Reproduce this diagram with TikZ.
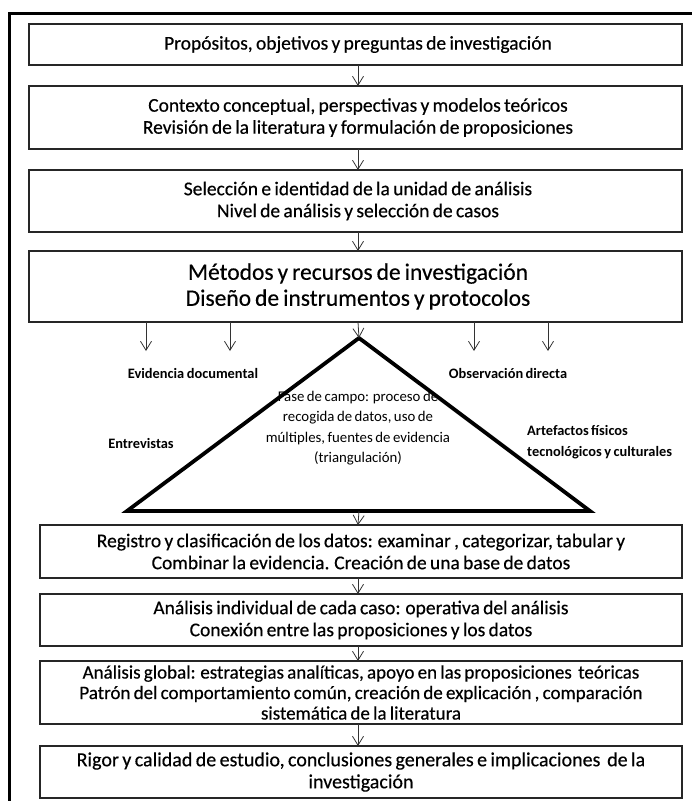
\documentclass[tikz,border=0pt]{standalone}
\usepackage{fontspec}
\setmainfont{Carlito}[WordSpace=0.75]
\usetikzlibrary{arrows.meta}
\begin{document}
\begin{tikzpicture}[x=1pt,y=-1pt,
  box/.style={draw=black!85,line width=1.3pt},
  btext/.style={align=center,font=\addfontfeature{FakeBold=0.4}\fontsize{19.5}{22}\selectfont,inner sep=0pt},
  lbl/.style={align=left,font=\bfseries\fontsize{14.4}{21}\selectfont,inner sep=0pt},
  flow/.style={-{Straight Barb[length=9pt,width=11pt]},line width=0.8pt,black!80},
  tri/.style={line width=3.8pt,line join=miter}]
\useasboundingbox (0,0) rectangle (692,801);
% outer frame
\draw[line width=3pt] (9.5,820) -- (9.5,13.5) -- (710,13.5);
% boxes
\draw[box] (29,24) rectangle (682,65);
\node[btext] (t1) at (358,44.5) {Propósitos, objetivos y preguntas de investigación};
\coordinate (b1) at (358,65);
\draw[box] (29,86) rectangle (682,149);
\node[btext] (t2) at (358,117.5) {Contexto conceptual, perspectivas y modelos teóricos\\Revisión de la literatura y formulación de proposiciones};
\coordinate (a2) at (358,86); \coordinate (b2) at (358,149);
\draw[box] (29,170) rectangle (682,232);
\node[btext] (t3) at (358,201) {Selección e identidad de la unidad de análisis\\Nivel de análisis y selección de casos};
\coordinate (a3) at (358,170); \coordinate (b3) at (358,232);
\draw[box] (29,251) rectangle (682,322);
\node[btext,font=\addfontfeature{FakeBold=0.4}\fontsize{23.5}{26}\selectfont] (t4) at (358,286.5) {Métodos y recursos de investigación\\Diseño de instrumentos y protocolos};
\coordinate (a4) at (358,251); \coordinate (b4) at (358,322);
% triangle
\coordinate (ap) at (359,338);
\coordinate (bl) at (127,511);
\coordinate (br) at (590,511);
\coordinate (bm) at (359,511);
\draw[tri] (ap) -- (br) -- (bl) -- cycle;
\node[align=center,font=\fontsize{14.8}{20.5}\selectfont,inner sep=0pt] (tt) at (358,428) {Fase de campo: proceso de\\recogida de datos, uso de\\múltiples, fuentes de evidencia\\(triangulación)};
% labels
\node[lbl] (ed) at (193,373) {Evidencia documental};
\node[lbl] (od) at (508,373) {Observación directa};
\node[lbl] (en) at (141,443) {Entrevistas};
\node[lbl,anchor=west] (af) at (527,442) {Artefactos físicos\\tecnológicos y culturales};
% small arrows
\foreach \x/\n in {146/s1,230/s2,474/s3,548/s4}{
  \coordinate (\n a) at (\x,322); \coordinate (\n b) at (\x,351);
  \draw[flow] (\n a) -- (\n b);}
% lower boxes
\draw[box] (40,525) rectangle (682,578);
\node[btext] (t5) at (361,551.5) {Registro y clasificación de los datos: examinar , categorizar, tabular y\\Combinar la evidencia. Creación de una base de datos};
\coordinate (a5) at (358,525); \coordinate (b5) at (358,578);
\draw[box] (40,594) rectangle (682,646);
\node[btext] (t6) at (361,620) {Análisis individual de cada caso: operativa del análisis\\Conexión entre las proposiciones y los datos};
\coordinate (a6) at (358,594); \coordinate (b6) at (358,646);
\draw[box] (40,661) rectangle (682,724);
\node[btext,font=\addfontfeature{FakeBold=0.4}\fontsize{19}{20.5}\selectfont] (t7) at (361,692.5) {Análisis global: estrategias analíticas, apoyo en las proposiciones\ \ teóricas\\Patrón del comportamiento común, creación de explicación , comparación\\sistemática de la literatura};
\coordinate (a7) at (358,661); \coordinate (b7) at (358,724);
\draw[box] (40,746) rectangle (682,798);
\node[btext,font=\addfontfeature{FakeBold=0.4}\fontsize{20}{22}\selectfont] (t8) at (361,772) {Rigor y calidad de estudio, conclusiones generales e implicaciones\ \ de la\\investigación};
\coordinate (a8) at (358,746);
% connectors
\draw[flow] (b1) -- (a2);
\draw[flow] (b2) -- (a3);
\draw[flow] (b3) -- (a4);
\draw[flow] (b4) -- (ap);
\draw[flow] (bm) -- (a5);
\draw[flow] (b5) -- (a6);
\draw[flow] (b6) -- (a7);
\draw[flow] (b7) -- (a8);
\end{tikzpicture}
\end{document}
